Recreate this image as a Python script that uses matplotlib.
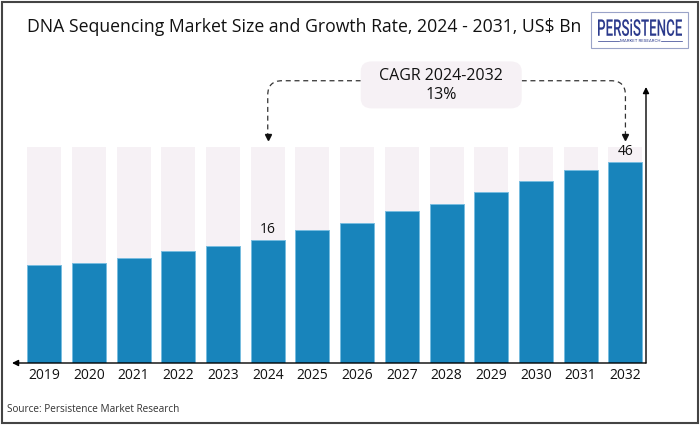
import matplotlib.pyplot as plt
from matplotlib.patches import FancyBboxPatch, Rectangle, PathPatch
from matplotlib.path import Path
from matplotlib.textpath import TextPath
from matplotlib.font_manager import FontProperties
from matplotlib.transforms import Affine2D

# data
years = ['2019', '2020', '2021', '2022', '2023', '2024', '2025',
         '2026', '2027', '2028', '2029', '2030', '2031', '2032']
market_size = [6.3, 7.1, 9.1, 11.7, 13.8, 16.0, 19.8,
               22.4, 27.1, 29.9, 34.3, 38.6, 42.8, 46.0]
labelled = {'2024': '16', '2032': '46'}
cagr_text = 'CAGR 2024-2032\n13%'
track_top = 51.5      # height of the pale background bars
floor = -31.1         # value at the drawn baseline

title = 'DNA Sequencing Market Size and Growth Rate, 2024 - 2031, US$ Bn'
source = 'Source: Persistence Market Research'

blue = '#1884BB'
pale = '#F6F1F5'
navy = '#2B3A8C'
font = 'Open Sans'

W, H = 700, 425
fig = plt.figure(figsize=(W / 100, H / 100), dpi=100)
fig.patch.set_facecolor('white')

# axes placed in pixels: x 12..646, y 87..363 from the top
ax = fig.add_axes([12 / W, (H - 363) / H, 634 / W, 276 / H])
ax.set_xlim(-0.72, 13.46)
ax.set_ylim(floor, 74.6)
ax.axis('off')

x = list(range(len(years)))
ax.bar(x, [track_top - floor] * len(x), bottom=floor, width=0.76,
       color=pale, zorder=1)
ax.bar(x, [v - floor for v in market_size], bottom=floor, width=0.76,
       color=blue, edgecolor='#78BDE0', linewidth=0.7, zorder=2)

for i, yr in enumerate(years):
    ax.text(i, floor - 2.0, yr, ha='center', va='top', fontsize=10,
            family=font, color='#111111')
    if yr in labelled:
        ax.text(i, market_size[i] + 1.2, labelled[yr], ha='center',
                va='bottom', fontsize=10, family=font, color='#111111')

# axes arrows
ax.annotate('', xy=(-0.72, floor), xytext=(13.46, floor),
            arrowprops=dict(arrowstyle='-|>', color='black', lw=1.0,
                            mutation_scale=9, shrinkA=0, shrinkB=0),
            annotation_clip=False)
ax.annotate('', xy=(13.46, 74.6), xytext=(13.46, floor),
            arrowprops=dict(arrowstyle='-|>', color='black', lw=1.0,
                            mutation_scale=9, shrinkA=0, shrinkB=0),
            annotation_clip=False)

# CAGR connector
i0 = years.index('2024')
i1 = years.index('2032')
y_line = 77.0
y_tip = 54.0
box_l, box_r = 7.08, 10.68
rx, ry = 0.32, 5.5
left = Path([(box_l, y_line), (i0 + rx, y_line), (i0, y_line), (i0, y_line - ry),
             (i0, y_tip + 2.5)],
            [Path.MOVETO, Path.LINETO, Path.CURVE3, Path.CURVE3, Path.LINETO])
right = Path([(box_r, y_line), (i1 - rx, y_line), (i1, y_line), (i1, y_line - ry),
              (i1, y_tip + 2.5)],
             [Path.MOVETO, Path.LINETO, Path.CURVE3, Path.CURVE3, Path.LINETO])
for p in (left, right):
    ax.add_patch(PathPatch(p, facecolor='none', edgecolor='#333333', lw=0.9,
                           linestyle=(0, (4, 3)), clip_on=False))
ax.plot([i0, i1], [y_tip + 1.5, y_tip + 1.5], linestyle='none', marker='v',
        markersize=4.5, color='#111111', clip_on=False)

box = FancyBboxPatch((box_l + 0.12, 66.2 + 2.0), box_r - box_l - 0.24, 18.4 - 4.0,
                     boxstyle='round,pad=0.12,rounding_size=0.25',
                     mutation_aspect=15, facecolor=pale, edgecolor='none',
                     clip_on=False, zorder=3)
ax.add_patch(box)
ax.text((box_l + box_r) / 2, 75.2, cagr_text, ha='center', va='center',
        fontsize=11.5, family=font, color='#111111', linespacing=1.2, zorder=4)

# title, source
fig.text(27 / W, 1 - 27 / H, title, ha='left', va='center', fontsize=12.7,
         family=font, color='#111111')
fig.text(7 / W, 1 - 410 / H, source, ha='left', va='center', fontsize=7.2,
         family=font, color='#333333')

# logo: condensed lettering squeezed into the box
fig.patches.append(Rectangle((591 / W, 1 - 48 / H), 97 / W, 36 / H,
                             transform=fig.transFigure, facecolor='white',
                             edgecolor='#9AA3C8', lw=0.8))
tp = TextPath((0, 0), 'PERSiSTENCE', size=10,
              prop=FontProperties(family='Roboto', weight='medium'))
bb = tp.get_extents()
sx = 84 / bb.width
sy = 17 / bb.height
logo_tf = Affine2D().translate(-bb.x0, -bb.y0).scale(sx, sy).translate(598, H - 36)
logo = PathPatch(logo_tf.transform_path(tp), facecolor=navy, edgecolor='none',
                 transform=None)
fig.patches.append(logo)
fig.text(640 / W, 1 - 41 / H, 'MARKET RESEARCH', ha='center', va='center',
         fontsize=3.2, family='Roboto', color=navy)
fig.lines.append(plt.Line2D([598 / W, 619 / W], [1 - 41 / H, 1 - 41 / H],
                            transform=fig.transFigure, color=navy, lw=0.5))
fig.lines.append(plt.Line2D([661 / W, 682 / W], [1 - 41 / H, 1 - 41 / H],
                            transform=fig.transFigure, color=navy, lw=0.5))

# outer frame
fig.patches.append(Rectangle((2 / W, 2 / H), 696 / W, 421 / H,
                             transform=fig.transFigure, facecolor='none',
                             edgecolor='#444444', lw=1.5))

fig.savefig('out.png', dpi=100)
